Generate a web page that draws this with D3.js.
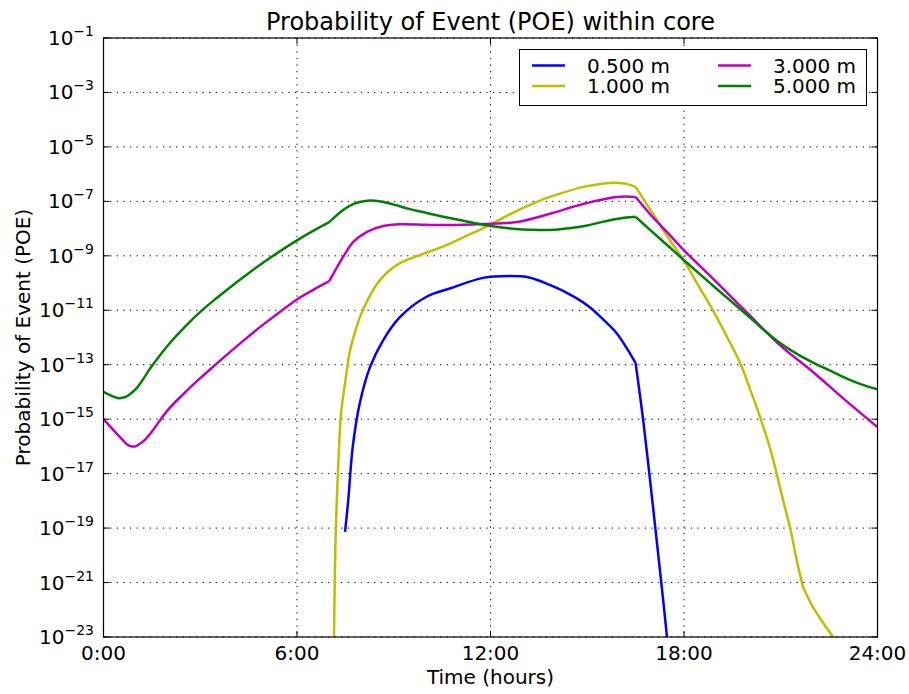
<!DOCTYPE html>
<html>
<head>
<meta charset="utf-8">
<script src="https://cdn.jsdelivr.net/npm/d3@7"></script>
<style>
  body { margin: 0; background: #fff; }
  svg { display: block; font-family: "DejaVu Sans", sans-serif; }
</style>
</head>
<body>
<svg id="chart" width="909" height="694"></svg>
<script>
// ---- data (time in hours, POE values) ----
const xTickHours = [0, 6, 12, 18, 24];
const xTickLabels = ["0:00", "6:00", "12:00", "18:00", "24:00"];
const yTickExponents = [-1, -3, -5, -7, -9, -11, -13, -15, -17, -19, -21, -23];

const blueHours = [7.49, 7.59, 7.73, 7.95, 8.26, 8.67, 9.19, 10.03, 10.74, 11.77, 12.6, 13.2, 13.84, 14.5, 15.08, 15.5, 15.9, 16.2, 16.5, 16.73, 17.0, 17.2, 17.35, 17.45, 17.55];
const blueValues = [7.2e-20, 1.1e-18, 1e-16, 4e-15, 8e-14, 7.9e-13, 5.6e-12, 3.2e-11, 6.3e-11, 1.55e-10, 1.8e-10, 1.6e-10, 8.5e-11, 3.6e-11, 1.3e-11, 4.5e-12, 1.5e-12, 4.5e-13, 1.15e-13, 1e-15, 1.6e-18, 1.1e-20, 2.5e-22, 1.8e-23, 1.26e-24];

const yellowHours = [7.14, 7.17, 7.2, 7.25, 7.3, 7.36, 7.42, 7.49, 7.64, 7.8, 7.95, 8.2, 8.47, 8.8, 9.19, 9.7, 10.22, 10.74, 11.25, 11.78, 12.3, 12.9, 13.53, 14.2, 14.87, 15.3, 15.8, 16.2, 16.5, 17.0, 17.5, 17.78, 18.0, 18.5, 18.9, 19.3, 19.74, 20.05, 20.36, 20.7, 21.07, 21.29, 21.5, 21.69, 22.0, 22.3, 22.62, 22.9];
const yellowValues = [2.5e-24, 1e-21, 6.3e-20, 3.2e-18, 7.9e-17, 1.4e-15, 5.6e-15, 2.1e-14, 3.2e-13, 1.6e-12, 5.6e-12, 2.5e-11, 8.9e-11, 2.5e-10, 5.4e-10, 9.5e-10, 1.6e-9, 2.8e-9, 5.4e-9, 1.05e-8, 2.2e-8, 5e-8, 1.07e-7, 2e-7, 3.4e-7, 4.2e-7, 4.8e-7, 4.4e-7, 3.4e-7, 4.1e-8, 4.9e-9, 1.6e-9, 6.5e-10, 6.3e-11, 1e-11, 1.25e-12, 1.15e-13, 1.25e-14, 1.2e-15, 6.3e-17, 1.1e-18, 1e-19, 6.3e-21, 6.9e-22, 1.25e-22, 3.5e-23, 1e-23, 3.2e-24];

const magentaHours = [0, 0.35, 0.72, 0.85, 1.0, 1.25, 1.5, 2.0, 2.5, 3.0, 3.5, 4.0, 4.5, 5.0, 5.5, 6.0, 6.5, 7.0, 7.43, 7.74, 8.17, 8.67, 9.19, 10.0, 10.74, 11.77, 12.82, 13.84, 14.87, 15.92, 16.5, 17.0, 17.5, 18.0, 19.0, 20.0, 21.0, 22.0, 23.0, 24.0];
const magentaValues = [1e-15, 3.5e-16, 1.2e-16, 1e-16, 1e-16, 1.6e-16, 3.5e-16, 2.2e-15, 8.9e-15, 3.2e-14, 1.07e-13, 3.5e-13, 1.1e-12, 3.3e-12, 9.3e-12, 2.5e-11, 5.6e-11, 1.17e-10, 9.1e-10, 3.2e-9, 7.6e-9, 1.25e-8, 1.45e-8, 1.38e-8, 1.35e-8, 1.48e-8, 1.75e-8, 3.5e-8, 8e-8, 1.45e-7, 1.45e-7, 2.9e-8, 6.9e-9, 1.6e-9, 1.1e-10, 7.2e-12, 4.9e-13, 5.4e-14, 5e-15, 5.1e-16];

const greenHours = [0, 0.46, 0.72, 1.0, 1.5, 2.0, 2.5, 3.0, 3.5, 4.0, 4.5, 5.0, 5.5, 6.0, 6.5, 7.0, 7.43, 7.74, 7.95, 8.26, 8.6, 9.0, 9.5, 10.0, 10.5, 11.0, 11.5, 12.0, 12.5, 13.0, 13.5, 14.0, 14.5, 15.0, 15.5, 16.0, 16.5, 17.0, 17.5, 18.0, 19.0, 20.0, 20.5, 21.0, 21.5, 22.0, 22.5, 23.0, 23.5, 24.0];
const greenValues = [1e-14, 5.9e-15, 6.8e-15, 1.26e-14, 8.9e-14, 5.2e-13, 2.3e-12, 8.7e-12, 2.75e-11, 8.2e-11, 2.3e-10, 6.2e-10, 1.55e-9, 3.7e-9, 8.2e-9, 1.72e-8, 4.8e-8, 7.9e-8, 9.5e-8, 1.07e-7, 9.8e-8, 7.6e-8, 5.2e-8, 3.8e-8, 2.8e-8, 2.1e-8, 1.6e-8, 1.25e-8, 1.05e-8, 9.3e-9, 8.9e-9, 9.1e-9, 1.05e-8, 1.3e-8, 1.8e-8, 2.35e-8, 2.7e-8, 7.9e-9, 2.35e-9, 6.9e-10, 6.3e-11, 6e-12, 1.78e-12, 6e-13, 2.5e-13, 1.2e-13, 6.3e-14, 3.3e-14, 1.9e-14, 1.26e-14];

// hours where a curve has a sharp corner
const blueKinks = [16.5];
const yellowKinks = [16.5, 21.69];
const magentaKinks = [0.72, 1.0, 7.0, 16.5];
const greenKinks = [0.72, 7.0, 16.5];

const seriesNames = ["0.500 m", "1.000 m", "3.000 m", "5.000 m"];
const seriesColors = ["#0000ff", "#bfbf00", "#bf00bf", "#008000"];

// ---- layout ----
const svg = d3.select("#chart");
const L = 103.5, R = 877.5, T = 38, B = 637;
const x = d3.scaleLinear().domain([0, 24]).range([L, R]);
const y = d3.scaleLog().domain([1e-23, 1e-1]).range([B, T]);

svg.append("defs").append("clipPath").attr("id", "plotclip")
  .append("rect").attr("x", L).attr("y", T).attr("width", R - L).attr("height", B - T);

// grid
const grid = svg.append("g");
xTickHours.forEach(h => {
  grid.append("line").attr("x1", x(h)).attr("x2", x(h)).attr("y1", T).attr("y2", B)
    .attr("stroke", "#000").attr("stroke-width", 1).attr("stroke-dasharray", "1.3,5.3");
});
yTickExponents.forEach(e => {
  grid.append("line").attr("x1", L).attr("x2", R).attr("y1", y(Math.pow(10, e))).attr("y2", y(Math.pow(10, e)))
    .attr("stroke", "#000").attr("stroke-width", 1).attr("stroke-dasharray", "1.3,5.3");
});

// lines
const series = [
  { h: blueHours, v: blueValues, k: blueKinks },
  { h: yellowHours, v: yellowValues, k: yellowKinks },
  { h: magentaHours, v: magentaValues, k: magentaKinks },
  { h: greenHours, v: greenValues, k: greenKinks }
];
const line = d3.line().x(d => x(d[0])).y(d => y(d[1])).curve(d3.curveCatmullRom.alpha(0.5));
const plot = svg.append("g").attr("clip-path", "url(#plotclip)");
series.forEach((s, i) => {
  const pts = s.h.map((h, j) => [h, s.v[j]]);
  // split at kinks, each piece smoothed separately
  const segs = [];
  let cur = [];
  pts.forEach(p => {
    cur.push(p);
    if (s.k.includes(p[0])) { segs.push(cur); cur = [p]; }
  });
  if (cur.length > 1) segs.push(cur);
  const d = segs.map(sg => line(sg)).join("");
  plot.append("path").attr("d", d).attr("fill", "none")
    .attr("stroke", seriesColors[i]).attr("stroke-width", 2.5)
    .attr("stroke-linejoin", "round").attr("stroke-linecap", "butt");
});

// frame
svg.append("rect").attr("x", L).attr("y", T).attr("width", R - L).attr("height", B - T)
  .attr("fill", "none").attr("stroke", "#000").attr("stroke-width", 1.2);

// ticks (inside, all four sides)
const tk = 6;
const ticks = svg.append("g").attr("stroke", "#000").attr("stroke-width", 1);
xTickHours.forEach(h => {
  ticks.append("line").attr("x1", x(h)).attr("x2", x(h)).attr("y1", B).attr("y2", B - tk);
  ticks.append("line").attr("x1", x(h)).attr("x2", x(h)).attr("y1", T).attr("y2", T + tk);
});
yTickExponents.forEach(e => {
  const yy = y(Math.pow(10, e));
  ticks.append("line").attr("x1", L).attr("x2", L + tk).attr("y1", yy).attr("y2", yy);
  ticks.append("line").attr("x1", R).attr("x2", R - tk).attr("y1", yy).attr("y2", yy);
});

// x tick labels
xTickHours.forEach((h, i) => {
  svg.append("text").attr("x", x(h)).attr("y", 660).attr("text-anchor", "middle")
    .attr("font-size", 20).text(xTickLabels[i]);
});
// y tick labels
yTickExponents.forEach(e => {
  const yy = y(Math.pow(10, e));
  const t = svg.append("text").attr("x", 94).attr("y", yy + 7).attr("text-anchor", "end").attr("font-size", 20);
  t.append("tspan").text("10");
  t.append("tspan").attr("dy", -9).attr("font-size", 14).text("\u2212" + Math.abs(e));
});

// titles
svg.append("text").attr("x", (L + R) / 2).attr("y", 30).attr("text-anchor", "middle")
  .attr("font-size", 24).text("Probability of Event (POE) within core");
svg.append("text").attr("x", (L + R) / 2).attr("y", 684).attr("text-anchor", "middle")
  .attr("font-size", 20).text("Time (hours)");
svg.append("text").attr("transform", `translate(30,${(T + B) / 2}) rotate(-90)`)
  .attr("text-anchor", "middle").attr("font-size", 20).text("Probability of Event (POE)");

// legend
const lg = svg.append("g");
lg.append("rect").attr("x", 519.5).attr("y", 49.5).attr("width", 347).attr("height", 56)
  .attr("fill", "#fff").attr("stroke", "#000").attr("stroke-width", 1);
const legPos = [
  { lx: 532, tx: 587, yy: 65.5 },
  { lx: 532, tx: 587, yy: 86 },
  { lx: 718, tx: 773, yy: 65.5 },
  { lx: 718, tx: 773, yy: 86 }
];
seriesNames.forEach((n, i) => {
  const p = legPos[i];
  lg.append("line").attr("x1", p.lx).attr("x2", p.lx + 33).attr("y1", p.yy).attr("y2", p.yy)
    .attr("stroke", seriesColors[i]).attr("stroke-width", 2.5);
  lg.append("text").attr("x", p.tx).attr("y", p.yy + 7.3).attr("font-size", 20).text(n);
});
</script>
</body>
</html>
